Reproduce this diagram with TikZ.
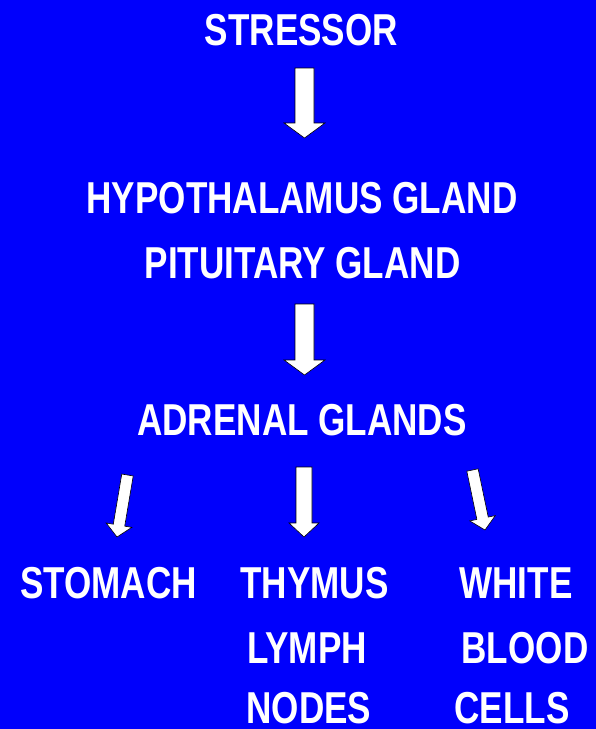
\documentclass[tikz,border=0pt]{standalone}
\usepackage{fontspec}
\usetikzlibrary{calc}
\newfontfamily\lblfont[FakeStretch=0.785]{Liberation Sans}
\definecolor{bg}{RGB}{0,0,252}
\newcommand\bigarr[5]{%
  \filldraw[fill=white,draw=black,line width=0.6pt,line join=miter]
    ($(#1)!#3!90:(#2)$) --
    ($(#2)!#5!(#1)!#3!-90:(#1)$) --
    ($(#2)!#5!(#1)!#4!-90:(#1)$) --
    (#2) --
    ($(#2)!#5!(#1)!#4!90:(#1)$) --
    ($(#2)!#5!(#1)!#3!90:(#1)$) --
    ($(#1)!#3!-90:(#2)$) -- cycle;}
\tikzset{lbl/.style={text=white,inner sep=0pt,anchor=base,text depth=0pt,
  font=\lblfont\bfseries\fontsize{44.7}{50}\selectfont}}
\begin{document}
\begin{tikzpicture}[x=1pt,y=-1pt]
\fill[bg] (0,0) rectangle (596,729);
\useasboundingbox (0,0) rectangle (596,729);
\node[lbl] (stressor) at (301.5,45) {STRESSOR};
\node[lbl] (hypo) at (302,213) {HYPOTHALAMUS GLAND};
\node[lbl] (pit) at (302.5,278) {PITUITARY GLAND};
\node[lbl] (adrenal) at (302,435) {ADRENAL GLANDS};
\node[lbl] (stomach) at (108.5,598) {STOMACH};
\node[lbl] (thymus) at (314.5,598) {THYMUS};
\node[lbl] (lymph) at (307,663) {LYMPH};
\node[lbl] (nodes) at (309,723.5) {NODES};
\node[lbl] (white) at (516,598) {WHITE};
\node[lbl] (blood) at (525,663) {BLOOD};
\node[lbl] (cells) at (512,723.5) {CELLS};
\coordinate (a1t) at (304.5,68);  \coordinate (a1b) at (304.5,138);
\coordinate (a2t) at (304.5,304); \coordinate (a2b) at (304.5,375);
\coordinate (a3t) at (304,467);   \coordinate (a3b) at (304,537);
\coordinate (a4t) at (127.5,475); \coordinate (a4b) at (117,537);
\coordinate (a5t) at (472.5,470); \coordinate (a5b) at (485,530);
\bigarr{a1t}{a1b}{9.5pt}{20.5pt}{15pt}
\bigarr{a2t}{a2b}{9.5pt}{20.5pt}{15pt}
\bigarr{a3t}{a3b}{8pt}{15pt}{14pt}
\bigarr{a4t}{a4b}{5.8pt}{13pt}{12pt}
\bigarr{a5t}{a5b}{5.8pt}{13pt}{12pt}
\end{tikzpicture}
\end{document}
